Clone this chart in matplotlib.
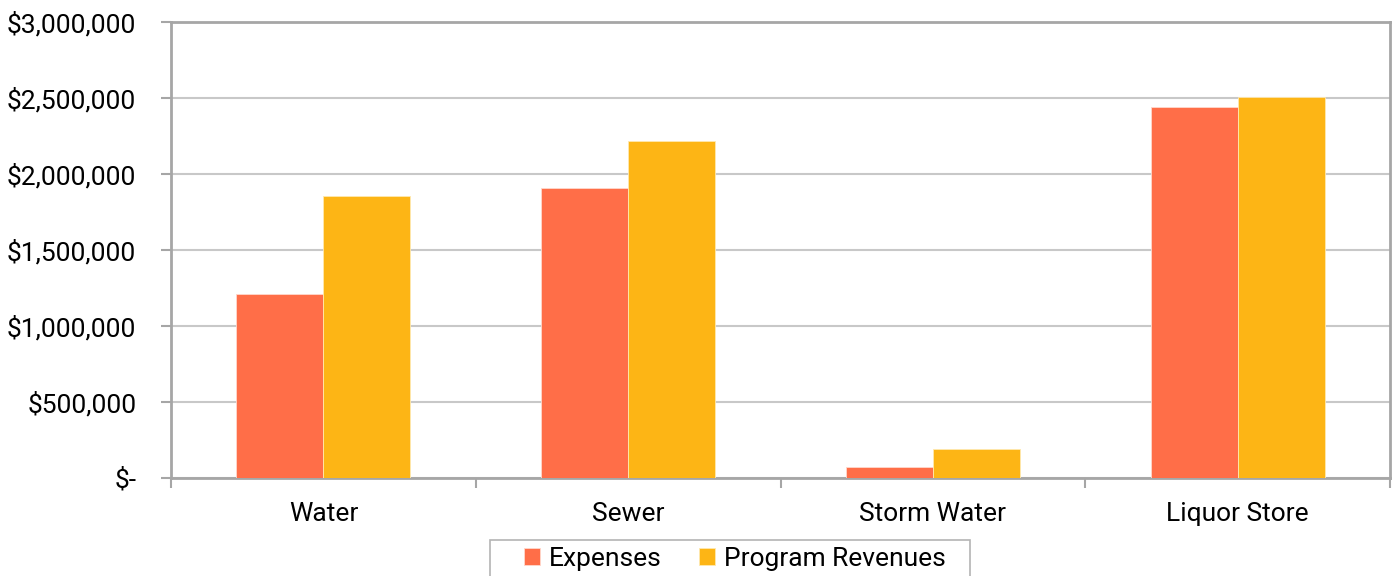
import numpy as np
import matplotlib.pyplot as plt
from matplotlib.patches import Rectangle
from matplotlib.ticker import FuncFormatter

plt.rcParams['font.family'] = ['Roboto', 'DejaVu Sans']

categories = ["Water", "Sewer", "Storm Water", "Liquor Store"]
expenses = [1210000, 1910000, 72000, 2439000]
program_revenues = [1857000, 2215000, 191000, 2505000]

EXP_COLOR = "#FF6E48"
REV_COLOR = "#FDB515"
AXIS_GRAY = "#A6A6A6"
GRID_GRAY = "#C8C8C8"

fig = plt.figure(figsize=(13.94, 5.76), dpi=100)
ax = fig.add_axes([0.1227, 0.1701, 0.8744, 0.7917])

x = np.arange(len(categories))
width = 1 / 3.5  # Excel-style 150% gap width

ax.bar(x - width / 2, expenses, width, color=EXP_COLOR,
       edgecolor="#FFD8CC", linewidth=0.6, label="Expenses", zorder=3)
ax.bar(x + width / 2, program_revenues, width, color=REV_COLOR,
       edgecolor="#FFE9B0", linewidth=0.6, label="Program Revenues", zorder=3)

ax.set_xlim(-0.5, len(categories) - 0.5)
ax.set_ylim(0, 3000000)
ax.set_yticks(np.arange(0, 3000001, 500000))


def dollars(v, pos):
    if v == 0:
        return "$-"
    return f"${v:,.0f}"


ax.yaxis.set_major_formatter(FuncFormatter(dollars))
ax.yaxis.grid(True, color=GRID_GRAY, linewidth=1.5, zorder=0)

# category labels at centers, tick marks at boundaries
ax.set_xticks(x)
ax.set_xticklabels(categories)
ax.set_xticks(np.arange(-0.5, len(categories)), minor=True)
ax.tick_params(axis="x", which="major", length=0, pad=17, labelsize=19)
ax.tick_params(axis="x", which="minor", length=7, width=1.5, color=AXIS_GRAY)
ax.tick_params(axis="y", length=7, width=1.5, color=AXIS_GRAY, pad=18,
               labelsize=19)

for side in ["left", "bottom", "top", "right"]:
    ax.spines[side].set_color(AXIS_GRAY)
    ax.spines[side].set_linewidth(2)

# legend box is wider than its entries, so draw the frame separately
fig.patches.append(Rectangle((0.3515, -0.05), 0.3443, 0.1125,
                             transform=fig.transFigure, facecolor="white",
                             edgecolor="#B4B4B4", linewidth=1.2, zorder=1))
fig.legend(loc="upper center", bbox_to_anchor=(0.5272, 0.0625),
           bbox_transform=fig.transFigure,
           ncol=2, fontsize=19, frameon=False,
           handlelength=0.6, handleheight=0.6,
           handletextpad=0.35, columnspacing=1.4, borderpad=0.25,
           borderaxespad=0)

fig.savefig("out.png", dpi=100)
